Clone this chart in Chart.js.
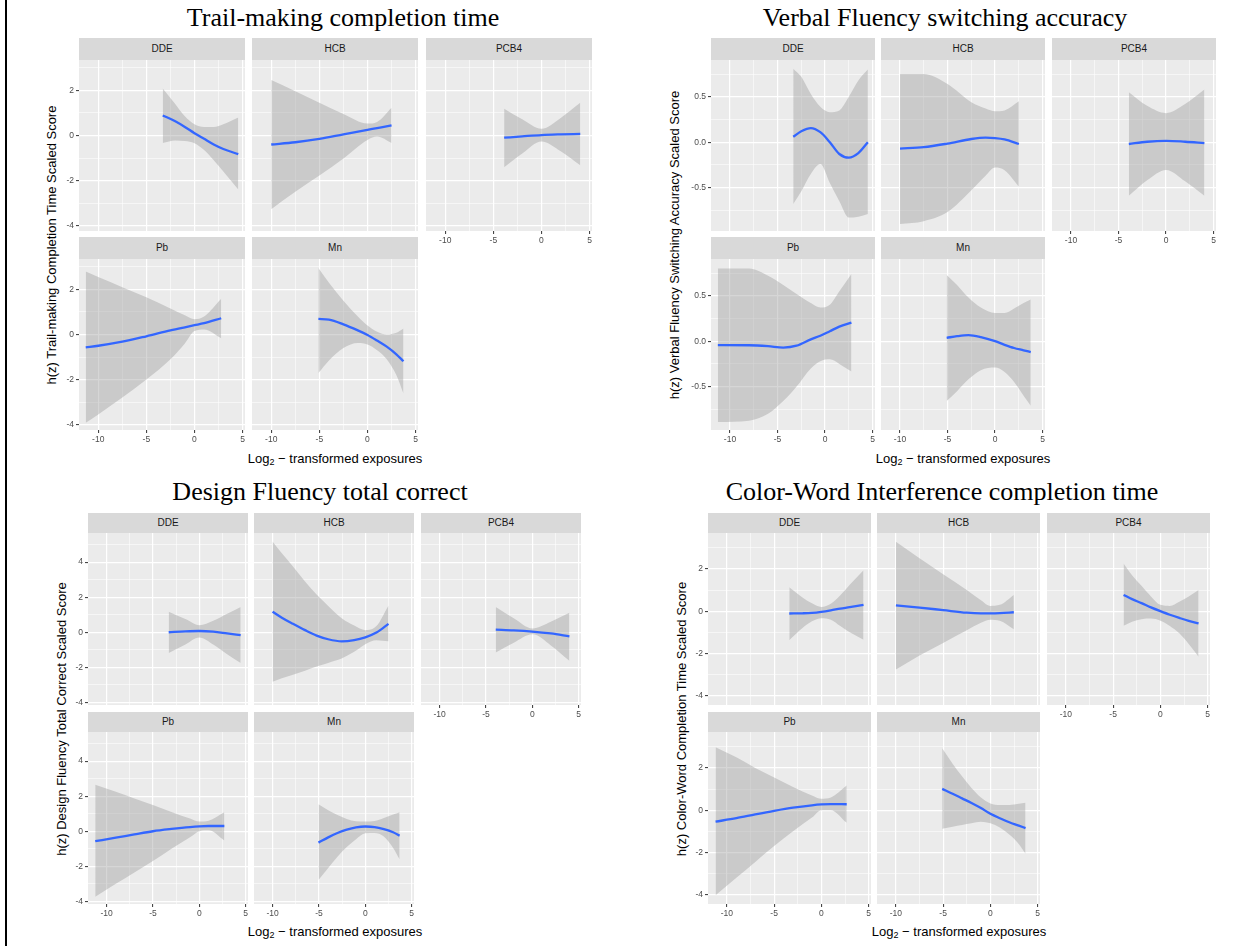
<!DOCTYPE html>
<html>
<head>
<meta charset="utf-8">
<script src="https://cdn.jsdelivr.net/npm/chart.js@4.4.0/dist/chart.umd.min.js"></script>
<style>
  body { margin: 0; background: #fff; width: 1252px; height: 946px; position: relative; overflow: hidden;
         font-family: "Liberation Sans", Arial, sans-serif; }
  .edge { position: absolute; left: 5px; top: 0; width: 2px; height: 946px; background: #000; }
  .title { position: absolute; font-family: "Liberation Serif", "Times New Roman", serif; font-size: 26px;
           line-height: 1; white-space: nowrap; transform: translateX(-50%); color: #000; }
  .strip { position: absolute; background: #d9d9d9; color: #1a1a1a; font-size: 10px; text-align: center; }
  .ytitle { position: absolute; font-size: 13px; white-space: nowrap; color: #000;
            transform: translate(-50%, -50%) rotate(-90deg); }
  .xtitle { position: absolute; font-size: 13px; white-space: nowrap; color: #000; transform: translate(-50%, -50%); }
  .xtitle sub { font-size: 9px; vertical-align: -2px; line-height: 0; }
  canvas { position: absolute; }
</style>
</head>
<body>
<div class="edge"></div>
<script>
// exposure facets, in facet_wrap order
const facetNames = ['DDE', 'HCB', 'PCB4', 'Pb', 'Mn'];

// shared x axis (log2 exposure)
const xRange = [-12.0, 5.25];
const xMajor = [-10, -5, 0, 5];
const xMinor = [-7.5, -2.5, 2.5];

// y axes
const trailRange = [-4.24, 3.35];
const trailYMajor = [-4, -2, 0, 2];
const trailYMinor = [-3, -1, 1, 3];
const verbalRange = [-0.978, 0.905];
const verbalYMajor = [-0.5, 0, 0.5];
const verbalYMinor = [-0.75, -0.25, 0.25, 0.75];
const designRange = [-4.15, 5.66];
const designYMajor = [-4, -2, 0, 2, 4];
const designYMinor = [-3, -1, 1, 3, 5];
const colorRange = [-4.44, 3.70];
const colorYMajor = [-4, -2, 0, 2];
const colorYMinor = [-3, -1, 1, 3];

// Trail-making completion time: exposure, h(z), 95% band
const trailDDEx   = [-3.3, -2, -1, 0, 1, 2, 3, 4.55];
const trailDDEfit = [0.89, 0.63, 0.38, 0.1, -0.15, -0.4, -0.6, -0.83];
const trailDDElo  = [-0.33, -0.22, -0.25, -0.35, -0.65, -1.1, -1.6, -2.4];
const trailDDEhi  = [2.09, 1.4, 0.85, 0.5, 0.38, 0.38, 0.5, 0.8];
const trailHCBx   = [-10, -7.5, -5, -2.5, 0, 1, 2.5];
const trailHCBfit = [-0.4, -0.3, -0.15, 0.05, 0.25, 0.33, 0.45];
const trailHCBlo  = [-3.27, -2.5, -1.78, -1.02, -0.2, -0.05, -0.33];
const trailHCBhi  = [2.46, 1.96, 1.45, 0.95, 0.53, 0.6, 1.23];
const trailPCB4x   = [-3.88, -2, 0, 2, 4.03];
const trailPCB4fit = [-0.1, -0.04, 0.02, 0.05, 0.07];
const trailPCB4lo  = [-1.41, -0.8, -0.27, -0.7, -1.32];
const trailPCB4hi  = [1.19, 0.72, 0.3, 0.78, 1.45];
const trailPbx   = [-11.3, -10, -7.5, -5, -2.5, -1, 0, 1, 2.78];
const trailPbfit = [-0.57, -0.5, -0.32, -0.08, 0.18, 0.32, 0.41, 0.5, 0.72];
const trailPblo  = [-3.92, -3.55, -2.8, -2.0, -1.1, -0.4, 0.15, 0.22, -0.17];
const trailPbhi  = [2.8, 2.55, 2.1, 1.65, 1.15, 0.85, 0.68, 0.8, 1.59];
const trailMnx   = [-5.1, -4, -2.5, -1, 0, 1, 2, 3, 3.74];
const trailMnfit = [0.69, 0.66, 0.45, 0.18, -0.02, -0.27, -0.54, -0.88, -1.19];
const trailMnlo  = [-1.71, -1.15, -0.6, -0.38, -0.45, -0.7, -1.1, -1.8, -2.62];
const trailMnhi  = [2.95, 2.3, 1.5, 0.8, 0.4, 0.12, 0.0, 0.08, 0.27];

// Verbal Fluency switching accuracy
const verbalDDEx   = [-3.35, -2.5, -1.5, -0.5, 0.5, 1.5, 2.5, 3.5, 4.5];
const verbalDDEfit = [0.06, 0.12, 0.155, 0.11, 0.0, -0.13, -0.17, -0.12, 0.0];
const verbalDDElo  = [-0.68, -0.54, -0.35, -0.24, -0.45, -0.65, -0.83, -0.82, -0.79];
const verbalDDEhi  = [0.81, 0.72, 0.53, 0.39, 0.33, 0.35, 0.5, 0.68, 0.8];
const verbalHCBx   = [-10, -7.5, -5, -2.5, -1, 0, 1, 2.5];
const verbalHCBfit = [-0.07, -0.055, -0.015, 0.035, 0.05, 0.045, 0.03, -0.02];
const verbalHCBlo  = [-0.9, -0.87, -0.77, -0.53, -0.37, -0.28, -0.31, -0.49];
const verbalHCBhi  = [0.75, 0.75, 0.64, 0.44, 0.37, 0.34, 0.35, 0.45];
const verbalPCB4x   = [-3.92, -2, 0, 2, 4.03];
const verbalPCB4fit = [-0.02, 0.005, 0.015, 0.005, -0.01];
const verbalPCB4lo  = [-0.59, -0.42, -0.305, -0.43, -0.59];
const verbalPCB4hi  = [0.55, 0.4, 0.32, 0.42, 0.58];
const verbalPbx   = [-11.28, -8, -6, -4.4, -3, -1.5, -0.5, 0.5, 1.5, 2.77];
const verbalPbfit = [-0.044, -0.045, -0.055, -0.07, -0.05, 0.02, 0.06, 0.11, 0.16, 0.205];
const verbalPblo  = [-0.89, -0.875, -0.8, -0.66, -0.5, -0.3, -0.22, -0.2, -0.25, -0.335];
const verbalPbhi  = [0.8, 0.8, 0.72, 0.62, 0.52, 0.42, 0.37, 0.4, 0.55, 0.74];
const verbalMnx   = [-5.09, -4, -2.8, -1.5, 0, 1, 2, 3, 3.75];
const verbalMnfit = [0.037, 0.055, 0.066, 0.045, 0.0, -0.04, -0.075, -0.1, -0.12];
const verbalMnlo  = [-0.66, -0.55, -0.42, -0.32, -0.29, -0.34, -0.45, -0.6, -0.71];
const verbalMnhi  = [0.73, 0.62, 0.48, 0.37, 0.31, 0.31, 0.36, 0.42, 0.46];

// Design Fluency total correct
const designDDEx   = [-3.3, -1.5, 0, 1.5, 3, 4.46];
const designDDEfit = [0.0, 0.05, 0.07, 0.03, -0.07, -0.17];
const designDDElo  = [-1.19, -0.7, -0.3, -0.7, -1.25, -1.76];
const designDDEhi  = [1.17, 0.75, 0.4, 0.65, 1.05, 1.44];
const designHCBx   = [-10, -9, -7.8, -6.5, -5.25, -4, -2.55, -1.2, 0, 1.2, 2.5];
const designHCBfit = [1.17, 0.83, 0.48, 0.12, -0.19, -0.4, -0.52, -0.45, -0.29, -0.02, 0.48];
const designHCBlo  = [-2.82, -2.63, -2.42, -2.19, -1.96, -1.75, -1.5, -1.12, -0.68, -0.45, -0.52];
const designHCBhi  = [5.17, 4.5, 3.75, 2.9, 2.15, 1.5, 0.8, 0.38, 0.12, 0.35, 1.53];
const designPCB4x   = [-3.94, -2, 0, 2, 4];
const designPCB4fit = [0.15, 0.11, 0.04, -0.07, -0.23];
const designPCB4lo  = [-1.15, -0.6, -0.12, -0.75, -1.63];
const designPCB4hi  = [1.44, 0.8, 0.22, 0.6, 1.11];
const designPbx   = [-11.22, -9, -7, -5, -3, -1, 0, 1, 2.7];
const designPbfit = [-0.57, -0.37, -0.18, 0.0, 0.13, 0.24, 0.28, 0.3, 0.3];
const designPblo  = [-3.73, -3.0, -2.35, -1.7, -1.0, -0.35, 0.0, 0.05, -0.53];
const designPbhi  = [2.65, 2.25, 1.87, 1.5, 1.1, 0.72, 0.55, 0.6, 1.09];
const designMnx   = [-5.05, -4, -3, -2, -1, 0, 1, 2, 3, 3.7];
const designMnfit = [-0.65, -0.35, -0.1, 0.09, 0.22, 0.27, 0.24, 0.12, -0.06, -0.25];
const designMnlo  = [-2.78, -2.1, -1.45, -0.9, -0.45, -0.12, -0.1, -0.3, -0.95, -1.6];
const designMnhi  = [1.54, 1.2, 0.92, 0.7, 0.57, 0.55, 0.58, 0.76, 0.95, 1.09];

// Color-Word Interference completion time
const colorDDEx   = [-3.4, -2, -1, 0, 1, 2, 3, 4.46];
const colorDDEfit = [-0.11, -0.1, -0.08, -0.03, 0.04, 0.12, 0.19, 0.3];
const colorDDElo  = [-1.38, -0.8, -0.48, -0.33, -0.4, -0.7, -1.0, -1.35];
const colorDDEhi  = [1.13, 0.65, 0.37, 0.2, 0.35, 0.75, 1.25, 1.94];
const colorHCBx   = [-10, -7.5, -5, -2.5, -1, 0, 1, 2.48];
const colorHCBfit = [0.27, 0.17, 0.05, -0.07, -0.1, -0.1, -0.09, -0.05];
const colorHCBlo  = [-2.76, -2.1, -1.5, -0.9, -0.55, -0.4, -0.45, -0.85];
const colorHCBhi  = [3.28, 2.5, 1.75, 1.0, 0.52, 0.25, 0.3, 0.77];
const colorPCB4x   = [-3.9, -3, -2, -1, 0, 1, 2, 3, 4.04];
const colorPCB4fit = [0.77, 0.57, 0.38, 0.18, 0.0, -0.17, -0.32, -0.46, -0.58];
const colorPCB4lo  = [-0.69, -0.5, -0.38, -0.35, -0.45, -0.7, -1.05, -1.55, -2.16];
const colorPCB4hi  = [2.26, 1.7, 1.2, 0.7, 0.3, 0.25, 0.45, 0.7, 1.0];
const colorPbx   = [-11.2, -9, -7, -5, -3, -1, 0, 1, 2.68];
const colorPbfit = [-0.54, -0.38, -0.2, -0.03, 0.12, 0.23, 0.27, 0.29, 0.28];
const colorPblo  = [-4.03, -3.2, -2.45, -1.7, -1.0, -0.35, 0.0, 0.0, -0.6];
const colorPbhi  = [2.98, 2.5, 2.0, 1.55, 1.1, 0.7, 0.54, 0.6, 1.17];
const colorMnx   = [-5.1, -4, -3, -2, -1, 0, 1, 2, 3, 3.72];
const colorMnfit = [1.01, 0.78, 0.56, 0.34, 0.1, -0.17, -0.38, -0.57, -0.73, -0.85];
const colorMnlo  = [-0.88, -0.78, -0.7, -0.62, -0.55, -0.62, -0.82, -1.15, -1.6, -2.06];
const colorMnhi  = [2.93, 2.2, 1.6, 1.05, 0.6, 0.32, 0.25, 0.25, 0.3, 0.35];

const quadrants = [
  {
    title: 'Trail-making completion time',
    yTitle: 'h(z) Trail-making Completion Time Scaled Score',
    yRange: trailRange, yMajor: trailYMajor, yMinor: trailYMinor, digits: 0,
    series: {
      DDE: [trailDDEx, trailDDEfit, trailDDElo, trailDDEhi],
      HCB: [trailHCBx, trailHCBfit, trailHCBlo, trailHCBhi],
      PCB4: [trailPCB4x, trailPCB4fit, trailPCB4lo, trailPCB4hi],
      Pb: [trailPbx, trailPbfit, trailPblo, trailPbhi],
      Mn: [trailMnx, trailMnfit, trailMnlo, trailMnhi]
    },
    box: { cols: [79, 252, 426], w: 166, strips: [38, 237], stripH: 22, plotH: 171,
           titleX: 343, titleTop: 5, yTitleAt: [51, 245], xTitleAt: [335, 458] }
  },
  {
    title: 'Verbal Fluency switching accuracy',
    yTitle: 'h(z) Verbal Fluency Switching Accuracy Scaled Score',
    yRange: verbalRange, yMajor: verbalYMajor, yMinor: verbalYMinor, digits: 1,
    series: {
      DDE: [verbalDDEx, verbalDDEfit, verbalDDElo, verbalDDEhi],
      HCB: [verbalHCBx, verbalHCBfit, verbalHCBlo, verbalHCBhi],
      PCB4: [verbalPCB4x, verbalPCB4fit, verbalPCB4lo, verbalPCB4hi],
      Pb: [verbalPbx, verbalPbfit, verbalPblo, verbalPbhi],
      Mn: [verbalMnx, verbalMnfit, verbalMnlo, verbalMnhi]
    },
    box: { cols: [711, 881, 1052], w: 164, strips: [38, 237], stripH: 22, plotH: 171,
           titleX: 945, titleTop: 5, yTitleAt: [674, 245], xTitleAt: [963, 458] }
  },
  {
    title: 'Design Fluency total correct',
    yTitle: 'h(z) Design Fluency Total Correct Scaled Score',
    yRange: designRange, yMajor: designYMajor, yMinor: designYMinor, digits: 0,
    series: {
      DDE: [designDDEx, designDDEfit, designDDElo, designDDEhi],
      HCB: [designHCBx, designHCBfit, designHCBlo, designHCBhi],
      PCB4: [designPCB4x, designPCB4fit, designPCB4lo, designPCB4hi],
      Pb: [designPbx, designPbfit, designPblo, designPbhi],
      Mn: [designMnx, designMnfit, designMnlo, designMnhi]
    },
    box: { cols: [88, 254, 421], w: 160, strips: [513, 712], stripH: 20, plotH: 172,
           titleX: 320, titleTop: 479, yTitleAt: [61, 719], xTitleAt: [335, 931] }
  },
  {
    title: 'Color-Word Interference completion time',
    yTitle: 'h(z) Color-Word Completion Time Scaled Score',
    yRange: colorRange, yMajor: colorYMajor, yMinor: colorYMinor, digits: 0,
    series: {
      DDE: [colorDDEx, colorDDEfit, colorDDElo, colorDDEhi],
      HCB: [colorHCBx, colorHCBfit, colorHCBlo, colorHCBhi],
      PCB4: [colorPCB4x, colorPCB4fit, colorPCB4lo, colorPCB4hi],
      Pb: [colorPbx, colorPbfit, colorPblo, colorPbhi],
      Mn: [colorMnx, colorMnfit, colorMnlo, colorMnhi]
    },
    box: { cols: [708, 877, 1047], w: 163, strips: [513, 712], stripH: 20, plotH: 172,
           titleX: 942, titleTop: 479, yTitleAt: [681, 719], xTitleAt: [959, 931] }
  }
];

const AXIS_W = 30;   // room for y tick labels on the first column
const AXIS_H = 18;   // room for x tick labels under the bottom facet of a column
const tickFont = { family: '"Liberation Sans", Arial, sans-serif', size: 8.5 };

// grey panel behind the grid, like theme_gray()
const panelBg = {
  id: 'panelBg',
  beforeDraw(chart) {
    const { ctx, chartArea: a } = chart;
    ctx.save();
    ctx.fillStyle = '#ebebeb';
    ctx.fillRect(a.left, a.top, a.right - a.left, a.bottom - a.top);
    ctx.restore();
  }
};

function addDiv(cls, html, style) {
  const d = document.createElement('div');
  d.className = cls;
  d.innerHTML = html;
  Object.assign(d.style, style);
  document.body.appendChild(d);
  return d;
}

function points(xs, ys) {
  return xs.map((x, i) => ({ x: x, y: ys[i] }));
}

function axisOptions(range, major, minor, showLabels, fmt) {
  const all = major.concat(minor).sort((a, b) => a - b);
  const isMajor = v => major.includes(v);
  return {
    type: 'linear',
    min: range[0],
    max: range[1],
    afterBuildTicks: s => { s.ticks = all.map(v => ({ value: v })); },
    border: { display: false },
    grid: {
      color: '#ffffff',
      lineWidth: c => (c.tick && isMajor(c.tick.value)) ? 1.2 : 0.55,
      drawTicks: showLabels,
      tickLength: 3,
      tickColor: c => (c.tick && isMajor(c.tick.value)) ? '#333333' : 'rgba(0,0,0,0)',
      tickWidth: 1
    },
    ticks: {
      display: showLabels,
      autoSkip: false,
      maxRotation: 0,
      padding: 2,
      color: '#4d4d4d',
      font: tickFont,
      callback: v => isMajor(v) ? fmt(v) : ''
    }
  };
}

// keep the plot area exactly the canvas minus the reserved axis strip
function fixSize(s, w, h) {
  if (w !== null) s.width = w;
  if (h !== null) s.height = h;
  s.paddingTop = 0;
  s.paddingBottom = 0;
  s.paddingLeft = 0;
  s.paddingRight = 0;
}

function drawFacet(q, idx) {
  const b = q.box;
  const col = idx % 3, row = Math.floor(idx / 3);
  const name = facetNames[idx];
  const [xs, fit, lo, hi] = q.series[name];
  const left = b.cols[col];
  const stripTop = b.strips[row];
  const plotTop = stripTop + b.stripH;
  const showY = col === 0;
  const showX = row === 1 || col === 2;   // bottom facet in each column
  const axW = showY ? AXIS_W : 0;
  const axH = showX ? AXIS_H : 0;

  addDiv('strip', name, {
    left: left + 'px', top: stripTop + 'px', width: b.w + 'px',
    height: b.stripH + 'px', lineHeight: b.stripH + 'px'
  });

  const cv = document.createElement('canvas');
  cv.width = b.w + axW;
  cv.height = b.plotH + axH;
  cv.style.left = (left - axW) + 'px';
  cv.style.top = plotTop + 'px';
  document.body.appendChild(cv);

  const xAxis = axisOptions(xRange, xMajor, xMinor, showX, v => String(v));
  xAxis.afterFit = s => fixSize(s, null, axH);
  const yAxis = axisOptions(q.yRange, q.yMajor, q.yMinor, showY, v => v.toFixed(q.digits));
  yAxis.afterFit = s => fixSize(s, axW, null);

  new Chart(cv.getContext('2d'), {
    type: 'line',
    data: {
      datasets: [
        { data: points(xs, fit), borderColor: '#3366ff', borderWidth: 2.3, pointRadius: 0,
          fill: false, cubicInterpolationMode: 'monotone' },
        { data: points(xs, hi), borderColor: 'rgba(0,0,0,0)', borderWidth: 0, pointRadius: 0,
          backgroundColor: 'rgba(153,153,153,0.4)', fill: '+1', cubicInterpolationMode: 'monotone' },
        { data: points(xs, lo), borderColor: 'rgba(0,0,0,0)', borderWidth: 0, pointRadius: 0,
          fill: false, cubicInterpolationMode: 'monotone' }
      ]
    },
    options: {
      responsive: false,
      animation: false,
      devicePixelRatio: 1,
      layout: { padding: 0 },
      plugins: { legend: { display: false }, tooltip: { enabled: false } },
      scales: { x: xAxis, y: yAxis }
    },
    plugins: [panelBg]
  });
}

quadrants.forEach(q => {
  const b = q.box;
  addDiv('title', q.title, { left: b.titleX + 'px', top: b.titleTop + 'px' });
  addDiv('ytitle', q.yTitle, { left: b.yTitleAt[0] + 'px', top: b.yTitleAt[1] + 'px' });
  addDiv('xtitle', 'Log<sub>2</sub> \u2212 transformed exposures',
         { left: b.xTitleAt[0] + 'px', top: b.xTitleAt[1] + 'px' });
  facetNames.forEach((n, i) => drawFacet(q, i));
});
</script>
</body>
</html>
